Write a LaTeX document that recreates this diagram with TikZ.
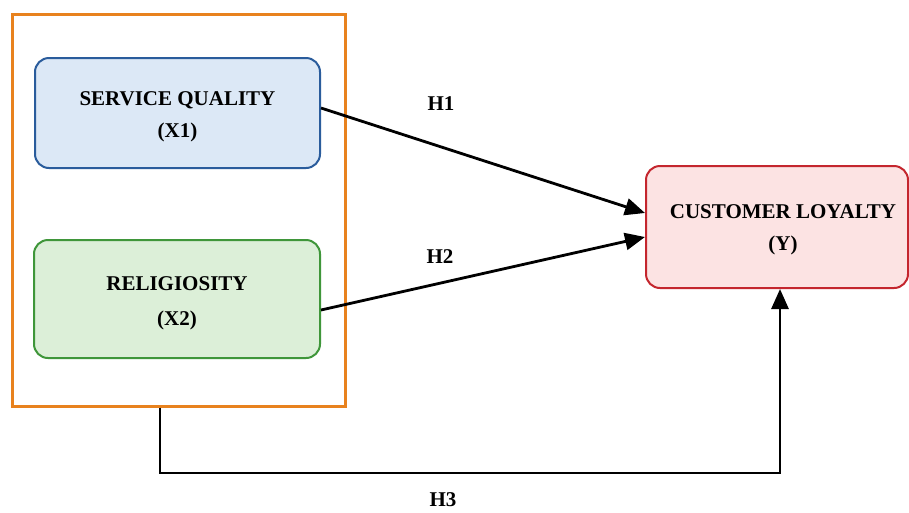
\documentclass[tikz,border=0pt]{standalone}
\usepackage{fontspec}
\setmainfont{Liberation Serif}
\usetikzlibrary{arrows.meta,calc}
\definecolor{bluefill}{HTML}{DCE8F6}
\definecolor{bluedraw}{HTML}{2A5C9C}
\definecolor{greenfill}{HTML}{DCEFD8}
\definecolor{greendraw}{HTML}{3F963A}
\definecolor{redfill}{HTML}{FCE3E3}
\definecolor{reddraw}{HTML}{C4262E}
\definecolor{orangedraw}{HTML}{E8821E}
\tikzset{
  varbox/.style={draw, line width=2pt, rounded corners=14pt, inner sep=0pt},
  vartext/.style={align=center, font=\fontsize{21}{32}\selectfont\bfseries, inner sep=0pt},
  conn/.style={line width=2.8pt, -{Triangle[length=20pt,width=17pt]}},
  hlabel/.style={font=\fontsize{21}{24}\selectfont\bfseries, inner sep=0pt}
}
\begin{document}
\begin{tikzpicture}[x=1pt,y=-1pt]
\useasboundingbox (0,0) rectangle (909,512);
\fill[white] (0,0) rectangle (909,512);
\node[draw=orangedraw, line width=3pt, minimum width=333pt, minimum height=392pt, inner sep=0pt] (grp) at (178.5,210) {};
\node[varbox, draw=bluedraw, fill=bluefill, minimum width=285pt, minimum height=110pt] (sq) at (177.5,113) {};
\node[vartext] (sqt) at ($(sq.center)+(0,4)$) {SERVICE QUALITY\\(X1)};
\node[varbox, draw=greendraw, fill=greenfill, minimum width=286pt, minimum height=118pt] (rel) at (177,299) {};
\node[vartext, font=\fontsize{21}{35}\selectfont\bfseries] (relt) at ($(rel.center)+(0,4)$) {RELIGIOSITY\\(X2)};
\node[varbox, draw=reddraw, fill=redfill, minimum width=262pt, minimum height=122pt] (cl) at (777,227) {};
\node[vartext] (clt) at ($(cl.center)+(6,3)$) {CUSTOMER LOYALTY\\(Y)};
\draw[conn] ($(sq.east)+(0,-5)$) -- ($(cl.west)+(0,-14)$);
\draw[conn] ($(rel.east)+(0,11)$) -- ($(cl.west)+(0,10)$);
\coordinate (h3a) at ($(grp.south)+(-18.5,0)$);
\coordinate (h3b) at ($(cl.south)+(3,0)$);
\draw[conn] (h3a) -- (h3a |- 0,473) -- (h3b |- 0,473) -- (h3b);
\node[hlabel] (l1) at (441,104) {H1};
\node[hlabel] (l2) at (440,257) {H2};
\node[hlabel] (l3) at (443,500) {H3};
\end{tikzpicture}
\end{document}
